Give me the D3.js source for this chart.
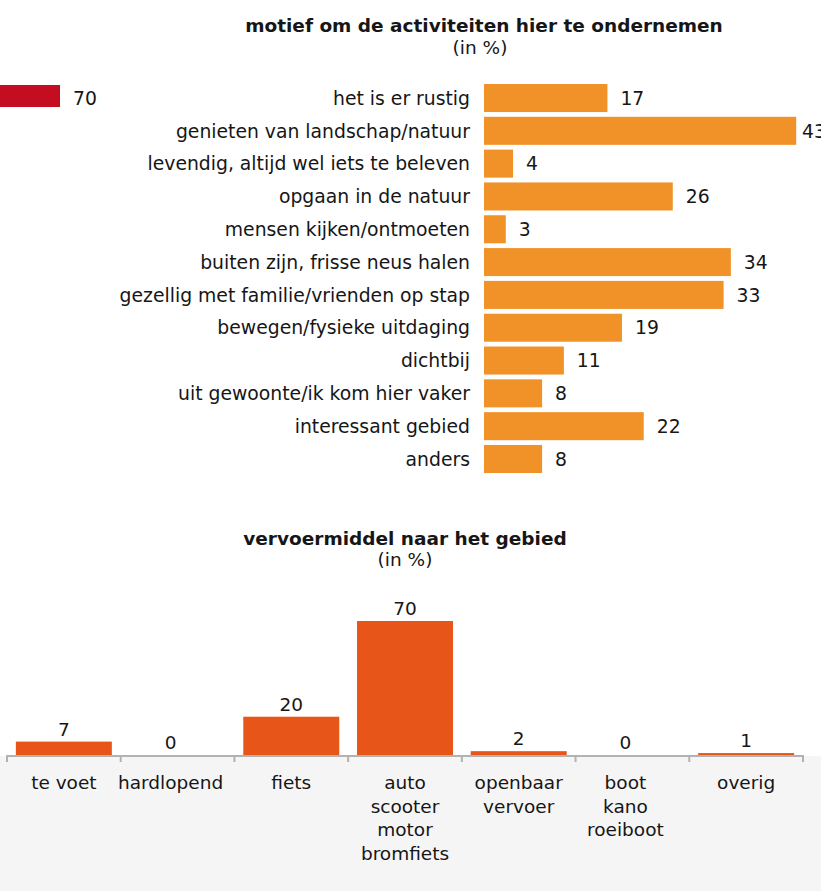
<!DOCTYPE html>
<html>
<head>
<meta charset="utf-8">
<script src="https://cdn.jsdelivr.net/npm/d3@7"></script>
<style>
  html, body { margin: 0; padding: 0; background: #ffffff; }
  svg { display: block; }
  text { font-family: "DejaVu Sans", Verdana, sans-serif; fill: #161616; }
</style>
</head>
<body>
<svg id="chart" width="821" height="891"></svg>
<script>
// ---------- data ----------
const motiefLabels = [
  "het is er rustig",
  "genieten van landschap/natuur",
  "levendig, altijd wel iets te beleven",
  "opgaan in de natuur",
  "mensen kijken/ontmoeten",
  "buiten zijn, frisse neus halen",
  "gezellig met familie/vrienden op stap",
  "bewegen/fysieke uitdaging",
  "dichtbij",
  "uit gewoonte/ik kom hier vaker",
  "interessant gebied",
  "anders"
];
const motiefValues = [17, 43, 4, 26, 3, 34, 33, 19, 11, 8, 22, 8];

const sideValues = [70];   // clipped red bar at left edge

const vervoerLabels = [
  ["te voet"],
  ["hardlopend"],
  ["fiets"],
  ["auto", "scooter", "motor", "bromfiets"],
  ["openbaar", "vervoer"],
  ["boot", "kano", "roeiboot"],
  ["overig"]
];
const vervoerValues = [7, 0, 20, 70, 2, 0, 1];

const title1 = "motief om de activiteiten hier te ondernemen";
const title2 = "vervoermiddel naar het gebied";
const subtitle = "(in %)";

// ---------- drawing ----------
const svg = d3.select("#chart");
const orange = "#f19228";
const orangeRed = "#e85518";
const red = "#c50d22";

// titles
svg.append("text").attr("x", 484).attr("y", 31.5).attr("text-anchor", "middle")
  .attr("font-weight", "bold").attr("font-size", 18.5).text(title1);
svg.append("text").attr("x", 480).attr("y", 54).attr("text-anchor", "middle")
  .attr("font-size", 18.5).text(subtitle);

// ---- top chart: horizontal bars ----
const x = d3.scaleLinear().domain([0, 43]).range([484, 796.2]);
const y = d3.scaleBand().domain(motiefLabels).range([81.6, 475.4]).paddingInner(0.146).paddingOuter(0.073);

const gTop = svg.append("g");
gTop.selectAll("rect.bar").data(motiefValues).join("rect")
  .attr("class", "bar")
  .attr("x", x(0))
  .attr("y", (d, i) => y(motiefLabels[i]))
  .attr("width", d => x(d) - x(0))
  .attr("height", y.bandwidth())
  .attr("fill", orange);

gTop.selectAll("text.cat").data(motiefLabels).join("text")
  .attr("class", "cat")
  .attr("x", 470)
  .attr("y", d => y(d) + y.bandwidth() / 2)
  .attr("dy", "0.36em")
  .attr("text-anchor", "end")
  .attr("font-size", 18.8)
  .text(d => d);

gTop.selectAll("text.val").data(motiefValues).join("text")
  .attr("class", "val")
  .attr("x", d => Math.min(x(d) + 13, 802))
  .attr("y", (d, i) => y(motiefLabels[i]) + y.bandwidth() / 2)
  .attr("dy", "0.36em")
  .attr("font-size", 18.8)
  .text(d => d);

// clipped red bar on the left
const xs = d3.scaleLinear().domain([0, 70]).range([0, 60]);
gTop.selectAll("rect.side").data(sideValues).join("rect")
  .attr("class", "side")
  .attr("x", xs(0)).attr("y", 85)
  .attr("width", d => xs(d) - xs(0)).attr("height", 22)
  .attr("fill", red);
gTop.selectAll("text.side").data(sideValues).join("text")
  .attr("class", "side")
  .attr("x", d => xs(d) + 13).attr("y", 98).attr("dy", "0.36em")
  .attr("font-size", 18.8).text(d => d);

// ---- bottom chart: vertical bars ----
svg.append("text").attr("x", 405).attr("y", 545).attr("text-anchor", "middle")
  .attr("font-weight", "bold").attr("font-size", 18.5).text(title2);
svg.append("text").attr("x", 405).attr("y", 566).attr("text-anchor", "middle")
  .attr("font-size", 18.5).text(subtitle);

const baseY = 755;
const bx = d3.scaleBand().domain(d3.range(vervoerValues.length)).range([7, 803])
  .paddingInner(0.156).paddingOuter(0.078);
const by = d3.scaleLinear().domain([0, 70]).range([baseY, 621]);
// zero-valued columns have their texts drawn slightly left in the reference
const cx = i => bx(i) + bx.bandwidth() / 2 - (vervoerValues[i] === 0 ? 7 : 0);

// gray background under axis
svg.append("rect").attr("x", 0).attr("y", baseY + 1).attr("width", 821).attr("height", 891 - baseY - 1)
  .attr("fill", "#f5f5f5");

const gBot = svg.append("g");
gBot.selectAll("rect.bar").data(vervoerValues).join("rect")
  .attr("class", "bar")
  .attr("x", (d, i) => bx(i))
  .attr("y", d => by(d))
  .attr("width", bx.bandwidth())
  .attr("height", d => baseY - by(d))
  .attr("fill", orangeRed);

gBot.selectAll("text.val").data(vervoerValues).join("text")
  .attr("class", "val")
  .attr("x", (d, i) => cx(i))
  .attr("y", d => by(d) - 6)
  .attr("text-anchor", "middle")
  .attr("font-size", 18.5)
  .text(d => d);

// axis line + ticks at band boundaries
const step = bx.step();
const tickXs = d3.range(vervoerValues.length + 1).map(i => 7 + i * step);
const axisColor = "#b2b2b2";
gBot.append("line").attr("x1", 7).attr("x2", 803).attr("y1", baseY + 1).attr("y2", baseY + 1)
  .attr("stroke", axisColor).attr("stroke-width", 2);
gBot.selectAll("line.tick").data(tickXs).join("line")
  .attr("class", "tick")
  .attr("x1", d => d).attr("x2", d => d)
  .attr("y1", baseY).attr("y2", baseY + 7)
  .attr("stroke", axisColor).attr("stroke-width", 2);

// category labels
const catG = gBot.selectAll("text.cat").data(vervoerLabels).join("text")
  .attr("class", "cat")
  .attr("text-anchor", "middle")
  .attr("font-size", 18.5);
catG.selectAll("tspan").data((d, i) => d.map(line => ({ line, i }))).join("tspan")
  .attr("x", d => cx(d.i))
  .attr("y", (d, j) => 789 + j * 23.5)
  .text(d => d.line);
</script>
</body>
</html>
